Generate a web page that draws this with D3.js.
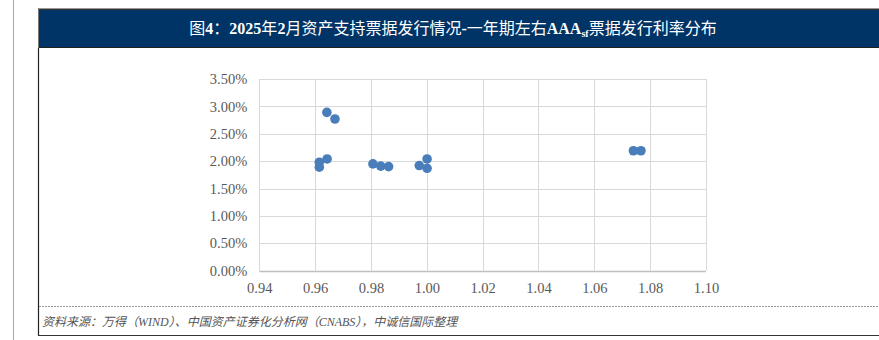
<!DOCTYPE html>
<html><head><meta charset="utf-8">
<script src="https://cdn.jsdelivr.net/npm/d3@7"></script>
<style>html,body{margin:0;padding:0;background:#fff;}svg{display:block;}</style>
</head><body>
<svg id="chart" width="879" height="340"></svg>
<script>
// ---- data ----
const xValues = [0.9642, 0.9671, 0.9643, 0.9615, 0.9615, 0.9807, 0.9835, 0.9863, 0.9973, 1.0001, 1.0001, 1.0740, 1.0767];
const yValues = [0.0289, 0.0277, 0.0204, 0.0198, 0.0189, 0.0195, 0.0191, 0.0190, 0.0192, 0.0204, 0.0187, 0.0219, 0.0219];
const xTicks = [0.94, 0.96, 0.98, 1.00, 1.02, 1.04, 1.06, 1.08, 1.10];
const yTicks = [0, 0.005, 0.01, 0.015, 0.02, 0.025, 0.03, 0.035];
// title pieces: [text, bold, subscript]
const titleParts = [["图",0,0],["4",1,0],["：",0,0],["2025",1,0],["年",0,0],["2",1,0],["月资产支持票据发行情况",0,0],["-",1,0],["一年期左右",0,0],["AAA",1,0],["sf",1,1],["票据发行利率分布",0,0]];
const sourceText = "资料来源：万得（WIND）、中国资产证券化分析网（CNABS），中诚信国际整理";

const svg = d3.select("#chart");
const serif = "'Liberation Serif','Times New Roman','Noto Sans CJK SC',serif";

// page decoration
svg.append("line").attr("x1",13.5).attr("x2",13.5).attr("y1",0).attr("y2",340).attr("stroke","#a6a6a6").attr("stroke-width",1);
// frame
svg.append("line").attr("x1",38.5).attr("x2",38.5).attr("y1",48).attr("y2",336).attr("stroke","#222").attr("stroke-width",1.2);
svg.append("line").attr("x1",38).attr("x2",879).attr("y1",335.5).attr("y2",335.5).attr("stroke","#333").attr("stroke-width",1.2);
svg.append("line").attr("x1",39).attr("x2",879).attr("y1",306.5).attr("y2",306.5).attr("stroke","#999").attr("stroke-width",1).attr("stroke-dasharray","2,1");
// header
svg.append("rect").attr("x",38).attr("y",8).attr("width",845).attr("height",40).attr("fill","#003366");
svg.append("line").attr("x1",38).attr("x2",879).attr("y1",8.5).attr("y2",8.5).attr("stroke","#999").attr("stroke-width",1);
svg.append("line").attr("x1",38).attr("x2",879).attr("y1",9.5).attr("y2",9.5).attr("stroke","#333").attr("stroke-width",1);
svg.append("line").attr("x1",38).attr("x2",879).attr("y1",47.5).attr("y2",47.5).attr("stroke","#222").attr("stroke-width",1.2);
svg.append("line").attr("x1",38.5).attr("x2",38.5).attr("y1",8).attr("y2",48).attr("stroke","#777").attr("stroke-width",1);

const title = svg.append("text").attr("x",453).attr("y",34).attr("text-anchor","middle")
  .attr("fill","#fff").attr("font-family",serif).attr("font-size",16);
let sub = false;
titleParts.forEach(([t,b,s])=>{
  const ts = title.append("tspan").text(t).attr("font-weight",b?"bold":"normal");
  if (s && !sub) { ts.attr("font-size",10).attr("dy",3); sub = true; }
  else if (!s && sub) { ts.attr("dy",-3); sub = false; }
});

// scales
const x = d3.scaleLinear().domain([0.94, 1.10]).range([259.3, 706]);
const y = d3.scaleLinear().domain([0, 0.035]).range([270.7, 79]);

// grid
const g = svg.append("g");
g.selectAll(".hg").data(yTicks).join("line")
  .attr("x1",x(0.94)).attr("x2",x(1.10))
  .attr("y1",d=>Math.round(y(d))+0.5).attr("y2",d=>Math.round(y(d))+0.5)
  .attr("stroke",d=>d===0?"#bfbfbf":"#d9d9d9").attr("stroke-width",d=>d===0?1.5:1);
g.selectAll(".vg").data(xTicks).join("line")
  .attr("y1",y(0)).attr("y2",y(0.035))
  .attr("x1",d=>Math.round(x(d))+0.5).attr("x2",d=>Math.round(x(d))+0.5)
  .attr("stroke","#d9d9d9").attr("stroke-width",1);

// axes (labels only)
const xAxis = d3.axisBottom(x).tickValues(xTicks).tickFormat(d3.format(".2f")).tickSize(0).tickPadding(12);
const yAxis = d3.axisLeft(y).tickValues(yTicks).tickFormat(d3.format(".2%")).tickSize(0).tickPadding(12);
const gx = svg.append("g").attr("transform",`translate(0,${y(0)})`).call(xAxis);
const gy = svg.append("g").attr("transform",`translate(${x(0.94)},0)`).call(yAxis);
[gx,gy].forEach(a=>{
  a.select(".domain").remove();
  a.selectAll("text").attr("font-family",serif).attr("font-size",14.5).attr("fill","#595959");
});

// points
svg.append("g").selectAll("circle").data(xValues.map((v,i)=>[v,yValues[i]])).join("circle")
  .attr("cx",d=>x(d[0])).attr("cy",d=>y(d[1])).attr("r",4.8).attr("fill","#4a7ebb");

// source
svg.append("text").attr("x",42).attr("y",326).attr("font-family",serif).attr("font-size",12)
  .attr("font-style","italic").attr("fill","#555").text(sourceText);
</script>
</body></html>
